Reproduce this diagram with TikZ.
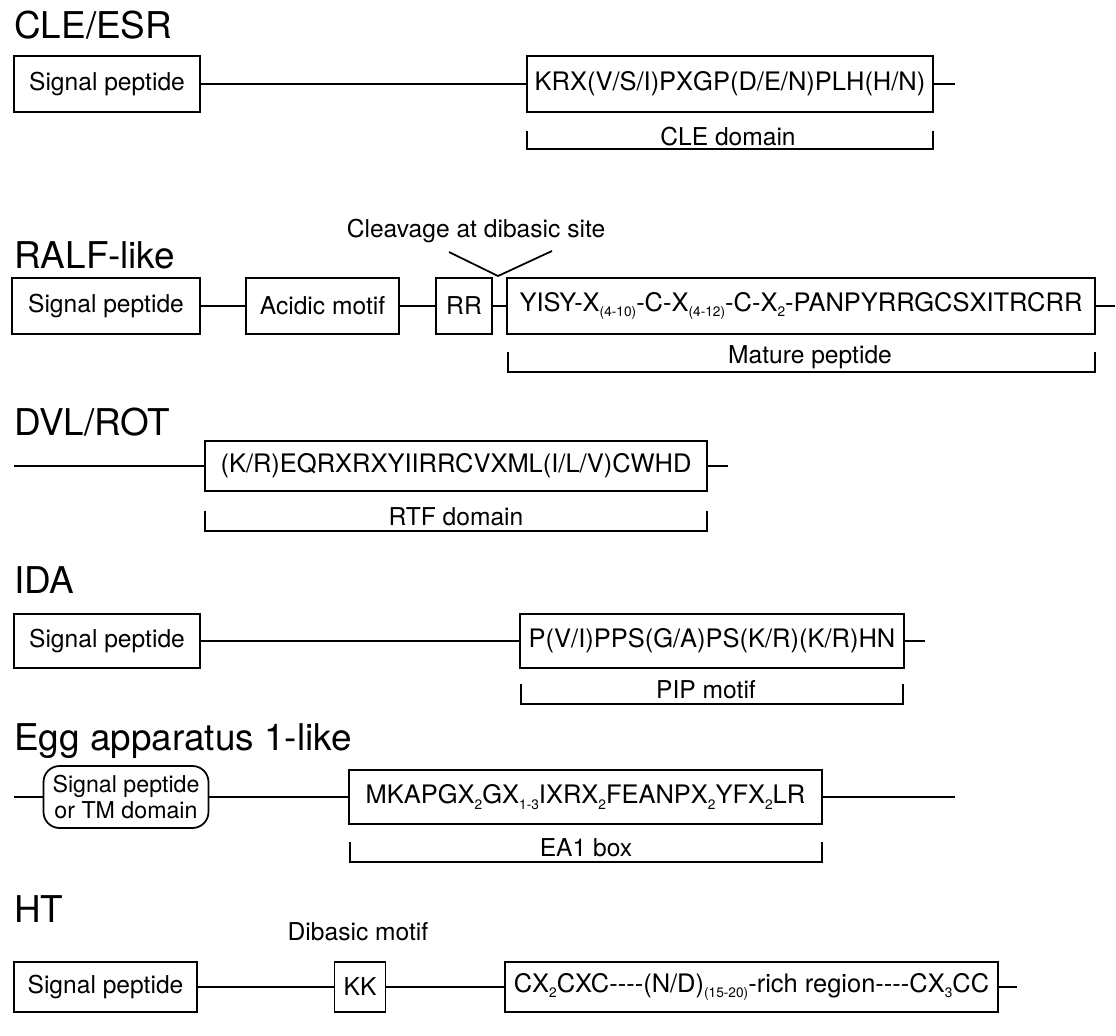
\documentclass[tikz,border=0pt]{standalone}
\usepackage{fontspec}
\setmainfont{TeX Gyre Heros}
\usetikzlibrary{positioning}
\newcommand{\subtxt}[1]{\raisebox{-0.4ex}{\fontsize{7.8}{8}\selectfont #1}}
\tikzset{
	segbox/.style={draw, line width=1pt, inner sep=1pt, minimum height=1.12cm, font=\fontsize{14}{16}\selectfont},
	seqbox/.style={segbox, font=\fontsize{14.5}{16}\selectfont},
	roundseg/.style={segbox, rounded corners=0.32cm, align=center, font=\fontsize{13.2}{15}\selectfont},
	famtitle/.style={anchor=base west, inner sep=0pt, font=\fontsize{21}{25}\selectfont},
	lbl/.style={inner sep=1pt, font=\fontsize{14}{16}\selectfont},
	link/.style={line width=1pt},
}

\begin{document}
\begin{tikzpicture}[x=0.02cm, y=-0.02cm]
	\useasboundingbox (0,0) rectangle (1116,1035);
	
	% CLE/ESR
	\node[famtitle] (t1) at (14,38) {CLE/ESR};
	\node[segbox, minimum width=3.72cm] (sig1) at (107,84) {Signal peptide};
	\node[seqbox, minimum width=8.12cm] (cle1) at (730,84) {KRX(V/S/I)PXGP(D/E/N)PLH(H/N)};
	\coordinate (e1) at (955,84);
	\draw[link] (sig1) -- (cle1);
	\draw[link] (cle1) -- (e1);
	\draw[link] (527,131) |- (933,149) -- (933,131);
	\node[lbl] (cled) at (728,137) {CLE domain};
	
	% RALF-like
	\node[famtitle] (t2) at (14,268) {RALF-like};
	\node[lbl] (cleav) at (476,231) {Cleavage at dibasic site};
	\coordinate (vl) at (449,252);
	\coordinate (va) at (498,276);
	\coordinate (vr) at (552,251);
	\draw[link] (vl) -- (va) -- (vr);
	\node[segbox, minimum width=3.76cm] (sig2) at (106,306) {Signal peptide};
	\node[segbox, minimum width=3.06cm] (acid) at (322.5,306) {Acidic motif};
	\node[segbox, minimum width=1.12cm] (rr) at (464,306) {RR};
	\node[seqbox, minimum width=11.76cm] (ralf) at (801,306) {YISY-X\subtxt{(4-10)}-C-X\subtxt{(4-12)}-C-X\subtxt{2}-PANPYRRGCSXITRCRR};
	\coordinate (e2) at (1115,306);
	\draw[link] (sig2) -- (acid);
	\draw[link] (acid) -- (rr);
	\draw[link] (rr) -- (ralf);
	\draw[link] (ralf) -- (e2);
	\draw[link] (508,352) |- (1095,372) -- (1095,352);
	\node[lbl] (mat) at (810,357) {Mature peptide};
	
	% DVL/ROT
	\node[famtitle] (t3) at (14,435) {DVL/ROT};
	\coordinate (s3) at (14,466);
	\node[seqbox, minimum width=10.04cm, minimum height=1cm] (rtf) at (456,466) {(K/R)EQRXRXYIIRRCVXML(I/L/V)CWHD};
	\coordinate (e3) at (728,466);
	\draw[link] (s3) -- (rtf);
	\draw[link] (rtf) -- (e3);
	\draw[link] (205,511) |- (707,531) -- (707,511);
	\node[lbl] (rtfd) at (456,517) {RTF domain};
	
	% IDA
	\node[famtitle] (t4) at (14,593) {IDA};
	\node[segbox, minimum width=3.72cm, minimum height=1.08cm] (sig4) at (107,641) {Signal peptide};
	\node[seqbox, minimum width=7.68cm, minimum height=1.08cm] (pip) at (712,641) {P(V/I)PPS(G/A)PS(K/R)(K/R)HN};
	\coordinate (e4) at (925,641);
	\draw[link] (sig4) -- (pip);
	\draw[link] (pip) -- (e4);
	\draw[link] (521,684) |- (903,704) -- (903,684);
	\node[lbl] (pipd) at (706,690) {PIP motif};
	
	% Egg apparatus 1-like
	\node[famtitle] (t5) at (14,750) {Egg apparatus 1-like};
	\coordinate (s5) at (14,797);
	\node[roundseg, minimum width=3.3cm, minimum height=1.24cm] (sigtm) at (126,797) {Signal peptide\\or TM domain};
	\node[seqbox, minimum width=9.46cm, minimum height=1.08cm] (ea1) at (585.5,797) {MKAPGX\subtxt{2}GX\subtxt{1-3}IXRX\subtxt{2}FEANPX\subtxt{2}YFX\subtxt{2}LR};
	\coordinate (e5) at (955,797);
	\draw[link] (s5) -- (sigtm);
	\draw[link] (sigtm) -- (ea1);
	\draw[link] (ea1) -- (e5);
	\draw[link] (350,842) |- (822,862) -- (822,842);
	\node[lbl] (ea1d) at (586,848) {EA1 box};
	
	% HT
	\node[famtitle] (t6) at (14,922) {HT};
	\node[lbl] (dib) at (358,932) {Dibasic motif};
	\node[segbox, minimum width=3.66cm, minimum height=1cm] (sig6) at (105.5,987) {Signal peptide};
	\node[segbox, minimum width=1.02cm, minimum height=1cm] (kk) at (360,987) {KK};
	\node[seqbox, minimum width=9.86cm, minimum height=1cm] (cx) at (751.5,987) {CX\subtxt{2}CXC-{}-{}-{}-(N/D)\subtxt{(15-20)}-rich region-{}-{}-{}-CX\subtxt{3}CC};
	\coordinate (e6) at (1017,987);
	\draw[link] (sig6) -- (kk);
	\draw[link] (kk) -- (cx);
	\draw[link] (cx) -- (e6);
\end{tikzpicture}
\end{document}
